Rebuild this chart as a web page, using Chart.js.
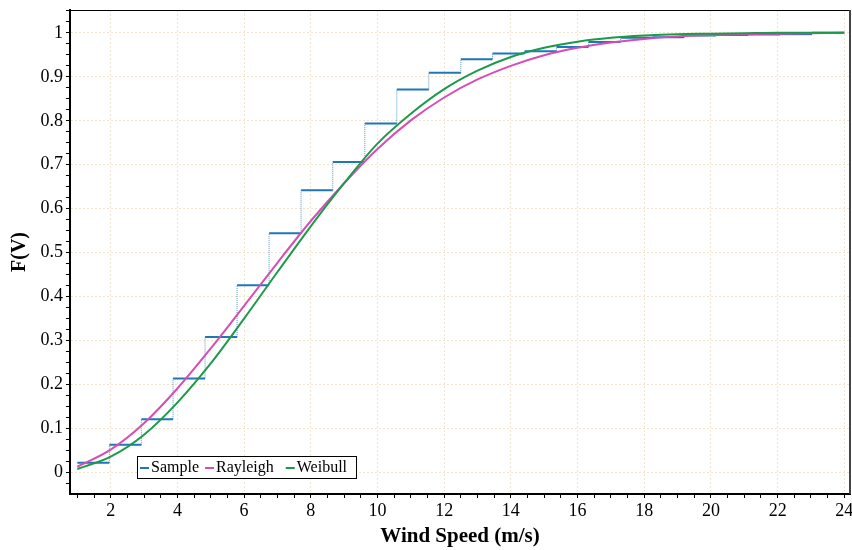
<!DOCTYPE html>
<html>
<head>
<meta charset="utf-8">
<title>Wind speed CDF</title>
<script src="https://cdn.jsdelivr.net/npm/chart.js@4.4.1/dist/chart.umd.min.js"></script>
<style>
  html, body { margin: 0; padding: 0; background: #fff; }
  canvas { display: block; }
</style>
</head>
<body>
<canvas id="cdfChart" width="852" height="550"></canvas>
<script>
/* ----- data ----- */
// empirical CDF: bin edges (m/s) and the step value for each bin
const sampleEdges = [1.00, 1.96, 2.92, 3.87, 4.83, 5.79, 6.75, 7.71, 8.66, 9.62, 10.58, 11.54,
                     12.50, 13.45, 14.41, 15.37, 16.33, 17.29, 18.24, 19.20, 20.16, 21.12, 22.08, 23.03, 23.99];
const sampleF = [0.022, 0.063, 0.121, 0.214, 0.308, 0.426, 0.544, 0.642, 0.706, 0.794, 0.871, 0.909,
                 0.940, 0.953, 0.958, 0.968, 0.979, 0.989, 0.990, 0.994, 0.995, 0.996, 0.997, 1.000];

// fitted curves, read at whole wind speeds
const curveV = [1, 2, 3, 4, 5, 6, 7, 8, 9, 10, 11, 12, 13, 14, 15, 16, 17, 18, 19, 20, 21, 22, 23, 24];
const rayleighF = [0.013, 0.052, 0.112, 0.191, 0.282, 0.379, 0.477, 0.572, 0.658, 0.736, 0.801, 0.853,
                   0.894, 0.925, 0.949, 0.966, 0.978, 0.986, 0.992, 0.995, 0.997, 0.998, 0.999, 1.000];
const weibullF = [0.008, 0.036, 0.086, 0.159, 0.248, 0.350, 0.456, 0.560, 0.658, 0.748, 0.816, 0.872,
                  0.914, 0.945, 0.966, 0.980, 0.989, 0.994, 0.997, 0.998, 0.999, 1.000, 1.000, 1.000];

const seriesNames = ['Sample', 'Rayleigh', 'Weibull'];
const xMajorStep = 2;
const yMajorStep = 0.1;

/* ----- styling ----- */
const FONT = "'Liberation Serif', 'Times New Roman', serif";
const BLUE = '#1f76b8';
const PINK = '#d64db5';
const GREEN = '#1c9a4b';
const GRID = 'rgba(228, 212, 170, 0.6)';

function isMultiple(v, step) {
    const q = v / step;
    return Math.abs(q - Math.round(q)) < 1e-6;
}

// step curve as pairs of points, the risers come out as separate segments
const samplePoints = [];
sampleF.forEach((f, i) => {
    samplePoints.push({ x: sampleEdges[i], y: f });
    samplePoints.push({ x: sampleEdges[i + 1], y: f });
});

const toXY = (vals) => vals.map((f, i) => ({ x: curveV[i], y: f }));

/* ----- plugins ----- */
const frame = {
    id: 'frame',
    afterDraw(chart) {
        const { ctx, chartArea: a } = chart;
        ctx.save();
        ctx.strokeStyle = '#000';
        ctx.lineWidth = 1;
        ctx.beginPath();
        ctx.moveTo(a.left, a.top + 0.5);
        ctx.lineTo(a.right, a.top + 0.5);
        ctx.stroke();
        ctx.strokeStyle = '#444';
        ctx.lineWidth = 2;
        ctx.beginPath();
        ctx.moveTo(a.right, a.top);
        ctx.lineTo(a.right, a.bottom);
        ctx.stroke();
        ctx.restore();
    }
};

const boxedLegend = {
    id: 'boxedLegend',
    afterDraw(chart) {
        const { ctx, chartArea: a } = chart;
        const colors = [BLUE, PINK, GREEN];
        const left = a.left + 67;
        const top = a.bottom - 38;
        const h = 22;
        const gaps = [5, 11];
        ctx.save();
        ctx.font = '16px ' + FONT;
        ctx.textBaseline = 'middle';
        const widths = seriesNames.map(n => ctx.measureText(n).width);
        const total = 3 + widths.reduce((s, w) => s + w + 12, 0) + gaps[0] + gaps[1] + 8;
        ctx.fillStyle = '#fff';
        ctx.fillRect(left, top, total, h);
        ctx.strokeStyle = '#000';
        ctx.lineWidth = 1;
        ctx.strokeRect(left + 0.5, top + 0.5, total, h);
        let x = left + 3;
        const cy = top + h / 2 + 1;
        seriesNames.forEach((n, i) => {
            ctx.strokeStyle = colors[i];
            ctx.lineWidth = 2;
            ctx.beginPath();
            ctx.moveTo(x, cy);
            ctx.lineTo(x + 9, cy);
            ctx.stroke();
            ctx.fillStyle = '#000';
            ctx.fillText(n, x + 11, cy);
            x += 12 + widths[i] + (gaps[i] || 0);
        });
        ctx.restore();
    }
};

/* ----- chart ----- */
new Chart(document.getElementById('cdfChart'), {
    type: 'line',
    data: {
        datasets: [
            {
                label: seriesNames[0],
                data: samplePoints,
                borderColor: BLUE,
                borderWidth: 2,
                pointRadius: 0,
                order: 3,
                segment: {
                    borderColor: c => c.p0.parsed.x === c.p1.parsed.x ? 'rgba(31, 118, 184, 0.75)' : BLUE,
                    borderWidth: c => c.p0.parsed.x === c.p1.parsed.x ? 1 : 2,
                    borderDash: c => c.p0.parsed.x === c.p1.parsed.x ? [1, 1] : []
                }
            },
            {
                label: seriesNames[1],
                data: toXY(rayleighF),
                borderColor: PINK,
                borderWidth: 2,
                pointRadius: 0,
                cubicInterpolationMode: 'monotone',
                order: 2
            },
            {
                label: seriesNames[2],
                data: toXY(weibullF),
                borderColor: GREEN,
                borderWidth: 2,
                pointRadius: 0,
                cubicInterpolationMode: 'monotone',
                order: 1
            }
        ]
    },
    options: {
        responsive: false,
        animation: false,
        layout: { padding: { top: 10, right: 2, left: 0, bottom: 0 } },
        plugins: {
            legend: { display: false },
            tooltip: { enabled: false }
        },
        scales: {
            x: {
                type: 'linear',
                min: 0.78,
                max: 24.17,
                afterFit: s => { s.height = 56; s.paddingLeft = 0; s.paddingRight = 0; },
                ticks: {
                    stepSize: 0.5,
                    includeBounds: false,
                    autoSkip: false,
                    maxRotation: 0,
                    padding: 2,
                    color: '#000',
                    font: { family: FONT, size: 18 },
                    callback: v => isMultiple(v, xMajorStep) ? String(v) : ''
                },
                grid: {
                    color: c => c.tick && isMultiple(c.tick.value, xMajorStep) ? GRID : 'transparent',
                    tickColor: '#000',
                    tickLength: 4,
                    lineWidth: 1
                },
                border: { display: true, color: '#000', width: 2, dash: [2, 2] },
                title: {
                    display: true,
                    text: 'Wind Speed (m/s)',
                    color: '#000',
                    font: { family: FONT, size: 21, weight: 'bold' },
                    padding: { top: 0, bottom: 1 }
                }
            },
            y: {
                type: 'linear',
                min: -0.049,
                max: 1.052,
                afterFit: s => { s.width = 70; s.paddingTop = 0; s.paddingBottom = 0; },
                ticks: {
                    stepSize: 0.025,
                    includeBounds: false,
                    autoSkip: false,
                    padding: 3,
                    color: '#000',
                    font: { family: FONT, size: 18 },
                    callback: v => (isMultiple(v, yMajorStep) && v > -0.01 && v < 1.01)
                        ? String(Math.round(v * 10) / 10) : ''
                },
                grid: {
                    color: c => c.tick && isMultiple(c.tick.value, yMajorStep) && c.tick.value > -0.01 && c.tick.value < 1.01
                        ? GRID : 'transparent',
                    tickColor: '#000',
                    tickLength: 4,
                    lineWidth: 1
                },
                border: { display: true, color: '#000', width: 2, dash: [2, 2] },
                title: {
                    display: true,
                    text: 'F(V)',
                    color: '#000',
                    font: { family: FONT, size: 20, weight: 'bold' },
                    padding: { top: 8, bottom: 0 }
                }
            }
        }
    },
    plugins: [frame, boxedLegend]
});
</script>
</body>
</html>
